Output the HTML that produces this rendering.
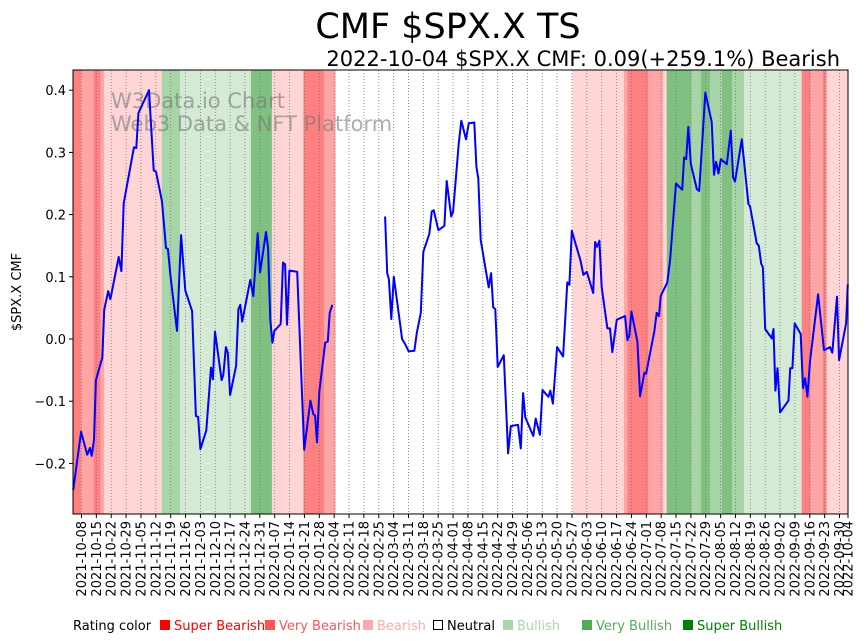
<!DOCTYPE html>
<html><head><meta charset="utf-8"><style>
html,body{margin:0;padding:0;background:#fff;}
body{width:867px;height:641px;overflow:hidden;font-family:"DejaVu Sans","Liberation Sans",sans-serif;}
svg{display:block}
</style></head><body>
<svg id="chart" width="867" height="641" viewBox="0 0 867 641" font-family="DejaVu Sans, Liberation Sans, sans-serif">
<text x="448" y="38" font-size="35" text-anchor="middle" fill="#000">CMF $SPX.X TS</text>
<text x="840" y="66" font-size="21" text-anchor="end" fill="#000">2022-10-04 $SPX.X CMF: 0.09(+259.1%) Bearish</text>
<g id="bands"></g>
<g id="grid"></g>
<text x="111" y="108" font-size="21" fill="#777" fill-opacity="0.6">W3Data.io Chart</text>
<text x="111" y="131" font-size="21" fill="#777" fill-opacity="0.6">Web3 Data &amp; NFT Platform</text>
<path id="line" fill="none" stroke="#0000ff" stroke-width="2" stroke-linejoin="round"/>
<rect x="73" y="70" width="775" height="444" fill="none" stroke="#000" stroke-width="1"/>
<g id="yaxis"></g>
<g id="xaxis"></g>
<text transform="translate(21,292) rotate(-90)" font-size="13" text-anchor="middle">$SPX.X CMF</text>
<g font-size="13">
<text x="73" y="630" fill="#000">Rating color</text>
<g><rect x="160" y="620" width="10" height="10" fill="#ff0000"/><text x="174" y="630" fill="#ff0000">Super Bearish</text></g>
<g><rect x="265" y="620" width="10" height="10" fill="#ff5555"/><text x="279" y="630" fill="#ff5555">Very Bearish</text></g>
<g><rect x="363" y="620" width="10" height="10" fill="#ffaaaa"/><text x="377" y="630" fill="#ffaaaa">Bearish</text></g>
<g><rect x="433.5" y="620.5" width="9" height="9" fill="none" stroke="#000"/><text x="447" y="630" fill="#000">Neutral</text></g>
<g><rect x="503" y="620" width="10" height="10" fill="#aad5aa"/><text x="517" y="630" fill="#aad5aa">Bullish</text></g>
<g><rect x="582" y="620" width="10" height="10" fill="#55aa55"/><text x="596" y="630" fill="#55aa55">Very Bullish</text></g>
<g><rect x="683" y="620" width="10" height="10" fill="#008000"/><text x="697" y="630" fill="#008000">Super Bullish</text></g>
</g>
</svg>
<script>
// days since 2021-10-04
const days = [0.1,3.8,6.7,8.0,8.8,9.9,10.8,13.8,14.7,16.6,17.6,21.5,22.8,23.9,28.7,29.8,30.8,35.8,38.0,39.1,41.9,43.8,44.7,46.0,49.0,50.9,52.9,56.1,57.9,58.9,60.0,62.8,65.0,65.9,66.9,70.0,70.8,72.0,72.9,74.0,76.8,77.9,78.8,79.7,83.5,84.9,87.0,88.1,90.9,91.9,92.9,93.9,94.8,97.8,98.9,99.9,100.8,101.9,105.6,108.9,111.8,113.2,114.0,114.9,116.0,118.8,120.0,120.9,122.1,
147.0,148.0,148.8,149.9,151.1,155.0,156.7,158.1,160.8,161.9,163.8,165.0,167.8,169.0,169.9,172.1,174.9,176.0,178.1,179.0,181.7,182.9,185.1,186.4,189.0,190.0,190.9,192.0,195.8,196.9,197.9,198.9,200.0,202.9,204.9,206.2,209.6,210.9,212.0,213.0,216.8,217.9,219.9,221.1,223.9,224.8,226.0,228.0,230.8,232.8,233.8,234.9,239.0,240.4,242.0,245.0,245.9,246.8,247.9,249.0,251.7,252.9,254.0,256.1,260.0,261.1,262.0,263.0,265.8,267.1,269.1,269.9,273.8,274.9,276.0,276.8,279.9,281.2,284.0,286.9,287.8,288.8,289.8,291.0,293.8,294.9,297.8,300.8,301.9,302.9,304.0,305.1,307.9,309.8,310.9,311.8,315.0,318.1,318.9,322.0,323.0,324.1,324.9,326.0,329.1,329.9,330.8,331.8,333.0,337.0,337.8,338.8,339.9,342.7,343.8,344.8,345.9,347.1,350.9,353.7,356.5,357.6,359.8,360.8,364.1,364.9];
const cmf = [-0.243,-0.149,-0.186,-0.175,-0.188,-0.162,-0.066,-0.030,0.047,0.077,0.064,0.132,0.109,0.218,0.308,0.307,0.363,0.400,0.271,0.269,0.221,0.146,0.145,0.098,0.013,0.167,0.078,0.045,-0.124,-0.125,-0.177,-0.147,-0.046,-0.065,0.012,-0.066,-0.058,-0.013,-0.022,-0.090,-0.043,0.048,0.055,0.028,0.095,0.069,0.170,0.107,0.172,0.146,0.031,-0.006,0.013,0.024,0.123,0.120,0.023,0.110,0.108,-0.178,-0.099,-0.121,-0.123,-0.166,-0.085,-0.006,-0.004,0.042,0.055,
0.197,0.106,0.096,0.032,0.100,0.000,-0.010,-0.020,-0.019,0.010,0.042,0.140,0.169,0.205,0.207,0.175,0.182,0.254,0.197,0.205,0.315,0.351,0.321,0.347,0.348,0.277,0.258,0.159,0.083,0.106,0.051,0.048,-0.045,-0.026,-0.184,-0.140,-0.138,-0.176,-0.087,-0.126,-0.156,-0.128,-0.154,-0.082,-0.093,-0.083,-0.104,-0.013,-0.028,0.091,0.087,0.174,0.126,0.103,0.108,0.074,0.156,0.148,0.158,0.083,0.017,0.017,-0.021,0.031,0.037,-0.002,0.005,0.044,-0.004,-0.092,-0.054,-0.056,0.013,0.042,0.037,0.069,0.091,0.127,0.250,0.240,0.292,0.289,0.341,0.281,0.241,0.238,0.396,0.349,0.264,0.285,0.266,0.289,0.281,0.335,0.260,0.253,0.321,0.217,0.213,0.154,0.150,0.121,0.115,0.016,0.001,0.016,-0.083,-0.047,-0.118,-0.099,-0.047,-0.047,0.025,0.008,-0.079,-0.063,-0.093,-0.036,0.072,-0.018,-0.013,-0.022,0.068,-0.034,0.025,0.088];
// rating bands: start day, end day, rating (-3..3)
const bandStart = [0,3.8,9.6,13.0,14.6,41.8,50.4,83.8,93.7,108.5,118.2,235.2,259.5,261.1,271.0,278.0,279.6,291.4,295.8,300.0,305.5,310.5,316.0,343.2,347.5,353.1,355.0];
const bandEnd   = [3.8,9.6,13.0,14.6,41.8,50.4,83.8,93.7,108.5,118.2,123.7,259.5,261.1,271.0,278.0,279.6,291.4,295.8,300.0,305.5,310.5,316.0,343.2,347.5,353.1,355.0,365];
const bandRating= [-3,-2,-3,-2,-1,2,1,3,-1,-3,-2,-1,-2,-3,-2,-1,3,2,3,2,3,2,1,-3,-2,-3,-1];
const yTicks = [-0.2,-0.1,0.0,0.1,0.2,0.3,0.4];
const yTickLabels = ["−0.2","−0.1","0.0","0.1","0.2","0.3","0.4"];

const NS="http://www.w3.org/2000/svg";
const X0=73,X1=848,Y0=70,Y1=514;
const base=new Date(Date.UTC(2021,9,4));
const xs=d=>X0+(X1-X0)*d/365;
const ys=v=>339-v*622;
const ratingColor={"-3":"#ff8080","-2":"#ffa5a5","-1":"#ffd5d5","1":"#d4ead4","2":"#a8d5a8","3":"#80c080"};

const bands=document.getElementById('bands');
for(let i=0;i<bandStart.length;i++){
  const r=document.createElementNS(NS,'rect');
  r.setAttribute('x',xs(bandStart[i]));r.setAttribute('y',Y0);
  r.setAttribute('width',xs(bandEnd[i])-xs(bandStart[i]));r.setAttribute('height',Y1-Y0);
  r.setAttribute('fill',ratingColor[bandRating[i]]);
  
  
  bands.appendChild(r);
}
const tickDays=[];
for(let d=4;d<=361;d+=7)tickDays.push(d);
tickDays.push(365);
const fmt=d=>{const t=new Date(base.getTime()+d*864e5);return t.toISOString().slice(0,10);};
const grid=document.getElementById('grid'),xaxis=document.getElementById('xaxis');
tickDays.forEach(d=>{
  const x=xs(d);
  const g=document.createElementNS(NS,'line');
  g.setAttribute('x1',x);g.setAttribute('x2',x);g.setAttribute('y1',Y0);g.setAttribute('y2',Y1);
  g.setAttribute('stroke','#777');g.setAttribute('stroke-width','0.8');g.setAttribute('stroke-dasharray','1,2');
  
  
  grid.appendChild(g);
  const t=document.createElementNS(NS,'line');
  t.setAttribute('x1',x);t.setAttribute('x2',x);t.setAttribute('y1',Y1);t.setAttribute('y2',Y1+4);t.setAttribute('stroke','#000');
  
  
  xaxis.appendChild(t);
  const l=document.createElementNS(NS,'text');
  l.setAttribute('transform','translate('+(x+4.5)+','+(Y1+7)+') rotate(-90)');
  l.setAttribute('text-anchor','end');l.setAttribute('font-size','13');
  l.textContent=fmt(d);
  
  
  xaxis.appendChild(l);
});
const yaxis=document.getElementById('yaxis');
yTicks.forEach((v,i)=>{
  const y=ys(v);
  const t=document.createElementNS(NS,'line');
  t.setAttribute('x1',X0-4);t.setAttribute('x2',X0);t.setAttribute('y1',y);t.setAttribute('y2',y);t.setAttribute('stroke','#000');
  
  
  yaxis.appendChild(t);
  const l=document.createElementNS(NS,'text');
  l.setAttribute('x',X0-7);l.setAttribute('y',y+5);l.setAttribute('text-anchor','end');l.setAttribute('font-size','13');
  l.textContent=yTickLabels[i];
  
  
  yaxis.appendChild(l);
});
let p='';
for(let i=0;i<days.length;i++){
  const cmd=(i===0||days[i]-days[i-1]>10)?'M':'L';
  p+=cmd+xs(days[i]).toFixed(1)+' '+ys(cmf[i]).toFixed(1)+' ';
}
document.getElementById('line').setAttribute('d',p);
</script>
</body></html>
